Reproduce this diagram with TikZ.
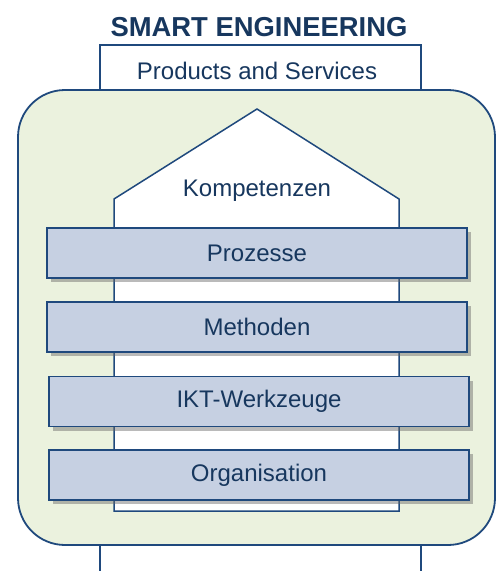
\documentclass[tikz,border=0pt]{standalone}
\usepackage{fontspec}
\setmainfont{Liberation Sans}
\usetikzlibrary{shadows}
\definecolor{seblue}{HTML}{1F497D}
\definecolor{setext}{HTML}{17375E}
\definecolor{segreen}{HTML}{EBF2DE}
\definecolor{sebar}{HTML}{C6D0E2}
\tikzset{
	layer/.style={draw=seblue, line width=1.5pt, fill=sebar, minimum width=420pt, minimum height=50pt, text=setext, font=\fontsize{24}{28}\selectfont, drop shadow={shadow xshift=4pt, shadow yshift=-4pt, opacity=0.45, fill=black!60}},
	label/.style={text=setext, font=\fontsize{24}{28}\selectfont}
}

\begin{document}
\begin{tikzpicture}[x=1pt,y=-1pt]
		\useasboundingbox (0,0) rectangle (502,571);
		\node [text=setext, font=\bfseries\fontsize{27.4}{30}\selectfont] (title) at (259,27) {SMART ENGINEERING};
		\draw [seblue, line width=1.8pt] (100,575) -- (100,45) -- (421,45) -- (421,575);
		\node [label] (products) at (257,71) {Products and Services};
		\draw [seblue, line width=1.8pt, fill=segreen, rounded corners=47pt] (18,90) rectangle (495,545);
		\draw [seblue, line width=1.5pt, fill=white] (114,511) -- (114,199) -- (257,109) -- (399,199) -- (399,511) -- cycle;
		\node [label] (kompetenzen) at (257,191) {Kompetenzen};
		\node [layer] (prozesse) at (257,253) {Prozesse};
		\node [layer] (methoden) at (257,327) {Methoden};
		\node [layer] (ikt) at (259,401.5) {IKT-Werkzeuge};
		\node [layer] (organisation) at (259,475) {Organisation};
	\end{tikzpicture}
\end{document}
